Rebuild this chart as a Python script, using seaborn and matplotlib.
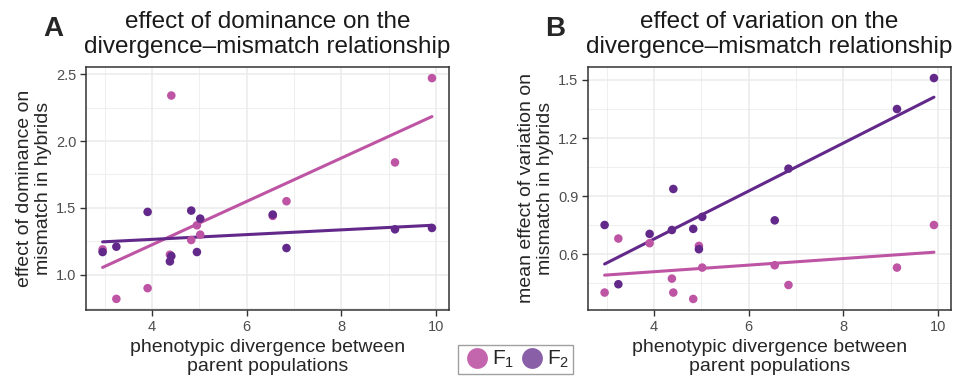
import matplotlib
matplotlib.use("Agg")
import matplotlib.pyplot as plt
from matplotlib.lines import Line2D
import seaborn as sns
import pandas as pd

# divergence between parents (same for both panels)
divergence = [2.96, 3.25, 3.91, 4.38, 4.41, 4.83, 4.95, 5.02, 6.55, 6.84, 9.13, 9.91]

# panel A: effect of dominance
dom_f1 = [1.19, 0.82, 0.90, 1.15, 2.34, 1.26, 1.37, 1.30, 1.44, 1.55, 1.84, 2.47]
dom_f2 = [1.17, 1.21, 1.47, 1.10, 1.14, 1.48, 1.17, 1.42, 1.45, 1.20, 1.34, 1.35]

# panel B: mean effect of variation
var_f1 = [0.402, 0.681, 0.657, 0.474, 0.402, 0.369, 0.643, 0.531, 0.543, 0.441, 0.531, 0.751]
var_f2 = [0.751, 0.445, 0.705, 0.725, 0.937, 0.731, 0.626, 0.793, 0.775, 1.042, 1.350, 1.510]

pink = "#BE55A4"
purple = "#62298A"

sns.set_theme(style="whitegrid")
plt.rcParams['font.family'] = ['Liberation Sans', 'DejaVu Sans']
plt.rcParams['mathtext.fontset'] = 'custom'
plt.rcParams['mathtext.rm'] = 'Liberation Sans'
plt.rcParams['mathtext.it'] = 'Liberation Sans'

df_a = pd.DataFrame({'x': divergence * 2, 'y': dom_f1 + dom_f2,
                     'gen': ['F1'] * 12 + ['F2'] * 12})
df_b = pd.DataFrame({'x': divergence * 2, 'y': var_f1 + var_f2,
                     'gen': ['F1'] * 12 + ['F2'] * 12})

fig = plt.figure(figsize=(9.58, 3.81), dpi=100)
ax_a = fig.add_axes([0.0898, 0.1864, 0.3789, 0.6377])
ax_b = fig.add_axes([0.6138, 0.1864, 0.3789, 0.6377])


def draw(ax, df, title, ylabel, yticks, ylim, letter):
    for gen, col in [('F1', pink), ('F2', purple)]:
        sub = df[df.gen == gen]
        sns.regplot(data=sub, x='x', y='y', ax=ax, scatter=False, ci=None,
                    color=col, line_kws={'lw': 2.2, 'zorder': 3})
    sns.scatterplot(data=df, x='x', y='y', hue='gen', palette=[pink, purple],
                    ax=ax, s=38, linewidth=0, legend=False, zorder=4)
    ax.set_xticks([4, 6, 8, 10])
    ax.set_xticks([3, 5, 7, 9], minor=True)
    ax.set_yticks(yticks)
    step = yticks[1] - yticks[0]
    ax.set_yticks([t - step / 2 for t in yticks] + [yticks[-1] + step / 2], minor=True)
    ax.set_xlim(2.61, 10.27)
    ax.set_ylim(*ylim)
    ax.grid(True, which='major', color='#EBEBEB', lw=1.1)
    ax.grid(True, which='minor', color='#EBEBEB', lw=0.55)
    ax.set_facecolor('white')
    for sp in ax.spines.values():
        sp.set_color('#333333')
        sp.set_linewidth(1.1)
    ax.tick_params(axis='both', which='major', length=4, width=1, color='#333333',
                   labelsize=10.5, labelcolor='#4D4D4D', pad=3, bottom=True, left=True)
    ax.tick_params(which='minor', length=0)
    ax.set_xlabel('phenotypic divergence between\nparent populations', fontsize=14,
                  linespacing=1.17, labelpad=4)
    ax.set_ylabel(ylabel, fontsize=14, linespacing=1.17, labelpad=3)
    ax.set_title(title, fontsize=17.5, linespacing=1.2, pad=10, color='#1A1A1A')
    ax.text(-0.09, 1.155, letter, transform=ax.transAxes, fontsize=20,
            fontweight='bold', va='center', ha='center')


draw(ax_a, df_a, 'effect of dominance on the\ndivergence\u2013mismatch relationship',
     'effect of dominance on\nmismatch in hybrids', [1.0, 1.5, 2.0, 2.5], (0.737, 2.553), 'A')
ax_a.yaxis.set_major_formatter(matplotlib.ticker.FormatStrFormatter('%.1f'))
draw(ax_b, df_b, 'effect of variation on the\ndivergence\u2013mismatch relationship',
     'mean effect of variation on\nmismatch in hybrids', [0.6, 0.9, 1.2, 1.5], (0.312, 1.567), 'B')

handles = [Line2D([], [], marker='o', ls='', color=pink, alpha=0.9, markersize=15, mew=0),
           Line2D([], [], marker='o', ls='', color=purple, alpha=0.75, markersize=15, mew=0)]
leg = fig.legend(handles, ['F$_1$', 'F$_2$'], loc='center', bbox_to_anchor=(0.538, 0.0565),
                 ncol=2, frameon=True, fontsize=15, handletextpad=0.0, columnspacing=0.1,
                 handlelength=1.45, borderpad=0.2, borderaxespad=0, fancybox=False)
leg.get_frame().set_edgecolor('#888888')
leg.get_frame().set_linewidth(1.0)

fig.savefig('out.png', dpi=100)
